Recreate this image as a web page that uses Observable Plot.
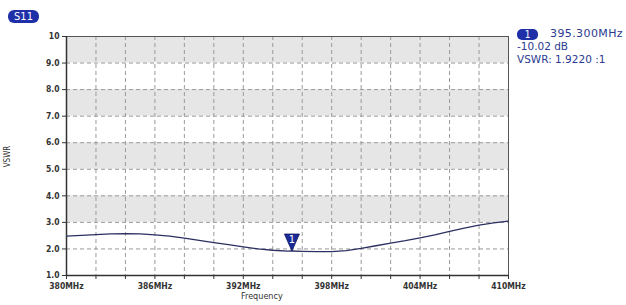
<!DOCTYPE html>
<html><head><meta charset="utf-8">
<script src="https://cdn.jsdelivr.net/npm/d3@7"></script>
<script src="https://cdn.jsdelivr.net/npm/@observablehq/plot@0.6"></script>
<style>
body{margin:0;background:#fff;font-family:"DejaVu Sans Condensed","DejaVu Sans",sans-serif;}
#wrap{position:relative;width:626px;height:305px;}
.badge{position:absolute;background:#1f2fa8;color:#fff;border-radius:6px;font-size:10px;line-height:12px;text-align:center;}
.leg{position:absolute;color:#2a3a90;font-family:"DejaVu Sans",sans-serif;font-size:10.5px;line-height:13px;white-space:nowrap;}
</style></head>
<body><div id="wrap"></div>
<script>
const freq = [380,381,382,383,384,385,386,387,388,389,390,391,392,393,394,395,395.3,396,397,398,399,400,401,402,403,404,405,406,407,408,409,410];
const vswr = [2.48,2.51,2.54,2.57,2.58,2.57,2.53,2.48,2.41,2.32,2.24,2.16,2.08,2.00,1.95,1.92,1.922,1.91,1.90,1.90,1.94,2.02,2.12,2.22,2.31,2.42,2.53,2.66,2.78,2.90,2.98,3.05];
const yTicks = [1,2,3,4,5,6,7,8,9,10];
const yLabels = ["1.0","2.0","3.0","4.0","5.0","6.0","7.0","8.0","9.0","10"];
const xTicks = [380,382,384,386,388,390,392,394,396,398,400,402,404,406,408,410];
const xLabels = ["380MHz","","","386MHz","","","392MHz","","","398MHz","","","404MHz","","","410MHz"];
const bandLow = [3,5,7,9];
const bandHigh = [4,6,8,10];
const markerFreq = [395.3];
const markerVswr = [1.922];
const markerLabel = ["1"];

const data = freq.map((f,i)=>({f, v: vswr[i]}));
const bands = bandLow.map((lo,i)=>({lo, hi: bandHigh[i]}));
const marker = markerFreq.map((f,i)=>({f, v: markerVswr[i], t: markerLabel[i]}));

// tall downward triangle with its tip at the anchor point
const downTri = {draw(ctx, size){ const w = 7.5, h = 17; ctx.moveTo(0,0); ctx.lineTo(-w,-h); ctx.lineTo(w,-h); ctx.closePath(); }};

const plot = Plot.plot({
  width: 626, height: 305,
  marginLeft: 66, marginRight: 118, marginTop: 36, marginBottom: 30,
  style: {fontFamily: '"DejaVu Sans Condensed","DejaVu Sans",sans-serif', fontSize: "8.5px", color: "#333", background: "transparent"},
  x: {domain: [380,410]},
  y: {domain: [1,10]},
  marks: [
    Plot.rect(bands, {x1: 380, x2: 410, y1: "lo", y2: "hi", fill: "#e6e6e6"}),
    Plot.ruleX(xTicks.slice(1,-1), {stroke: "#9a9a9a", strokeDasharray: "4,3", strokeWidth: 1}),
    Plot.ruleY(yTicks.slice(1,-1), {stroke: "#9a9a9a", strokeDasharray: "4,3", strokeWidth: 1}),
    Plot.frame({stroke: "#555", strokeWidth: 1}),
    Plot.axisY({ticks: yTicks, tickFormat: d=>yLabels[yTicks.indexOf(d)], tickSize: 4, tickPadding: 3, label: null, fontWeight: "bold", fill: "#333"}),
    Plot.axisX({ticks: xTicks, tickFormat: d=>xLabels[xTicks.indexOf(d)], tickSize: 4, tickPadding: 3, label: null, fontWeight: "bold", fill: "#333"}),
    Plot.ruleX([380], {stroke: "#333", strokeWidth: 1.5}),
    Plot.ruleY([1], {stroke: "#333", strokeWidth: 1.5}),
    Plot.line(data, {x: "f", y: "v", stroke: "#2b3060", strokeWidth: 1.3}),
    Plot.dot(marker, {x: "f", y: "v", symbol: downTri, r: 5, fill: "#1a2a96", stroke: "#0e1860", strokeWidth: 0.8}),
    Plot.text(marker, {x: "f", y: "v", text: "t", dy: -11, fill: "#fff", fontSize: 10, fontFamily: '"DejaVu Sans",sans-serif'})
  ]
});
const wrap = document.getElementById("wrap");
wrap.appendChild(plot);

function add(html, cls, style){const d=document.createElement("div");d.className=cls;d.innerHTML=html;Object.assign(d.style,style);wrap.appendChild(d);}
add("S11","badge",{left:"8px",top:"10px",width:"31px",height:"13px",fontSize:"11px",lineHeight:"13px"});
add("1","badge",{left:"517px",top:"29px",width:"21px",height:"11px",fontSize:"10px",lineHeight:"11px",borderRadius:"5px"});
add("395.300MHz","leg",{left:"550px",top:"27px",fontSize:"11px",letterSpacing:"0.4px"});
add("-10.02 dB","leg",{left:"517px",top:"40px"});
add("VSWR: 1.9220 :1","leg",{left:"517px",top:"53px"});
add("VSWR","leg",{left:"-3px",top:"150px",color:"#333",fontSize:"8px",transform:"rotate(-90deg)",fontFamily:'"DejaVu Sans Condensed",sans-serif'});
add("Frequency","leg",{left:"241px",top:"290px",color:"#333",fontSize:"9px",fontFamily:'"DejaVu Sans Condensed",sans-serif'});
</script></body></html>
